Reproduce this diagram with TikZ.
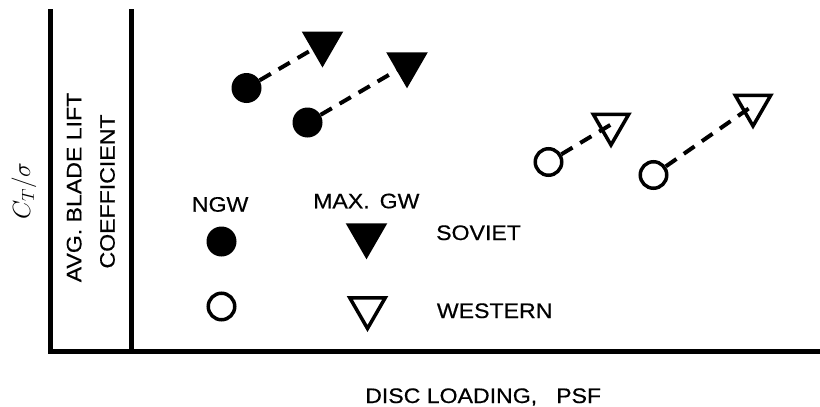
\documentclass[tikz,border=0pt]{standalone}
\usepackage{fontspec}
\newfontfamily\lblfont[FakeStretch=1.1,FakeBold=0.5]{Liberation Sans}
\usetikzlibrary{shapes.geometric}
\begin{document}
\begin{tikzpicture}[x=1pt,y=-1pt,
  lbl/.style={font=\lblfont\fontsize{21}{25}\selectfont, inner sep=0pt},
  axisline/.style={line width=5pt, line join=miter},
  fdot/.style={circle, fill=black, minimum size=30pt, inner sep=0pt},
  odot/.style={circle, draw=black, line width=3.5pt, minimum size=26.5pt, inner sep=0pt},
  ftri/.style={regular polygon, regular polygon sides=3, shape border rotate=180, fill=black, minimum size=48pt, inner sep=0pt},
  otri/.style={regular polygon, regular polygon sides=3, shape border rotate=180, draw=black, line width=3.5pt, minimum size=41pt, inner sep=0pt},
  link/.style={line width=4pt, dash pattern=on 13pt off 9pt},
]
\useasboundingbox (0,0) rectangle (820,407);
% axes / frame
\draw[axisline] (50,9) -- (50,351) -- (820,351);
\draw[axisline] (131,9) -- (131,351);
% axis labels
\node[rotate=90, inner sep=0pt, font=\fontsize{24}{28}\selectfont] (ct) at (24,191) {$C_T/\sigma$};
\node[lbl, rotate=90] (avg) at (74.2,187.5) {AVG. BLADE LIFT};
\node[lbl, rotate=90] (coef) at (107.5,191.5) {COEFFICIENT};
\node[lbl, anchor=base west] (disc) at (365,403) {DISC LOADING,\hspace{19pt}PSF};
% data points
\node[fdot] (c1) at (246.5,88) {};
\node[fdot] (c2) at (307.5,122.5) {};
\node[ftri] (t1) at (322.5,43.5) {};
\node[ftri] (t2) at (407,64.3) {};
\node[odot] (c3) at (548.5,162) {};
\node[odot] (c4) at (653.5,175) {};
\node[otri] (t3) at (611,124.5) {};
\node[otri] (t4) at (753,105.5) {};
\draw[link] (c1) -- (t1.center);
\draw[link] (c2) -- (t2.center);
\draw[link] (c3) -- (t3.center);
\draw[link] (c4) -- (t4.center);
% legend
\node[lbl, anchor=base west] (ngw) at (191.7,211.7) {NGW};
\node[lbl, anchor=base west] (maxgw) at (313,208.3) {MAX.\hspace{10pt}GW};
\node[fdot] (lf) at (221.5,241.5) {};
\node[ftri] (lft) at (366.5,235.3) {};
\node[lbl, anchor=base west] (sov) at (436,240) {SOVIET};
\node[odot] (lo) at (221.5,306.5) {};
\node[otri] (lot) at (367.5,308) {};
\node[lbl, anchor=base west] (wes) at (436.7,318) {WESTERN};
\end{tikzpicture}
\end{document}
